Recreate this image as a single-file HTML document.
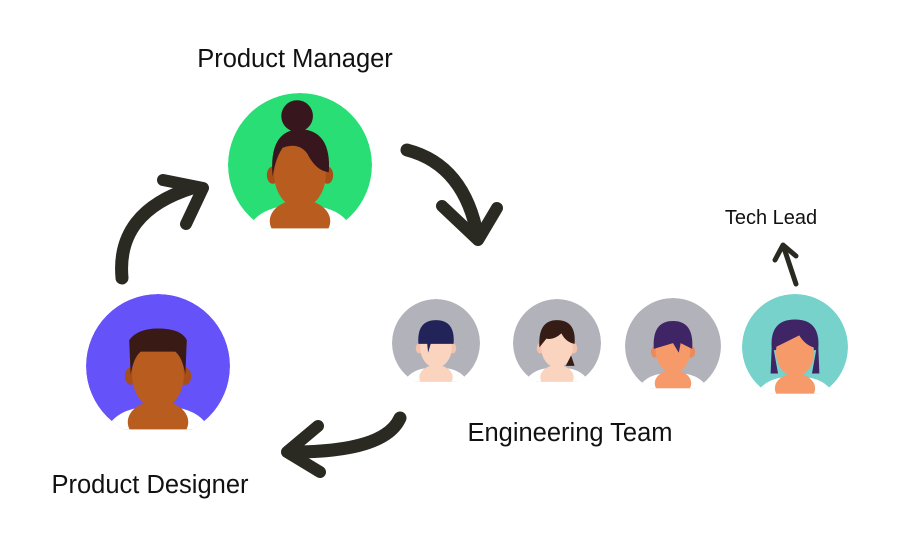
<!DOCTYPE html>
<html><head><meta charset="utf-8"><style>
html,body{margin:0;padding:0;background:#fff;width:903px;height:543px;overflow:hidden}
svg{display:block}
text{font-family:"Liberation Sans",sans-serif;fill:#111}
</style></head><body>
<svg width="903" height="543" viewBox="0 0 903 543">
<defs>
<clipPath id="c"><circle cx="0" cy="0" r="50"/></clipPath>
<clipPath id="r"><rect x="-60" y="-60" width="120" height="104"/></clipPath>
<g id="shirt"><path d="M-44 60 L-36 44 Q-30 32 -14 29 L14 29 Q30 32 36 44 L44 60 Z" fill="#fff"/></g>
</defs>

<text x="295" y="67" font-size="25.5" text-anchor="middle">Product Manager</text>
<text x="150" y="493" font-size="25.5" text-anchor="middle">Product Designer</text>
<text x="570" y="441" font-size="25.5" text-anchor="middle">Engineering Team</text>
<text x="771" y="224" font-size="20" text-anchor="middle">Tech Lead</text>

<!-- PM -->
<g transform="translate(300,165) scale(1.44)"><g clip-path="url(#r)">
 <g clip-path="url(#c)"><circle r="50" fill="#29de74"/><use href="#shirt"/></g>
 <ellipse cx="0" cy="39" rx="21" ry="15" fill="#b85c20"/>
 <rect x="-7" y="20" width="14" height="14" fill="#b85c20"/>
 <ellipse cx="-19" cy="7" rx="4" ry="6" fill="#a84e18"/>
 <ellipse cx="19" cy="7" rx="4" ry="6" fill="#a84e18"/>
 <ellipse cx="0" cy="6" rx="18" ry="24" fill="#b85c20"/>
 <circle cx="-2" cy="-34" r="11" fill="#37161e"/>
 <path d="M-19 8 Q-22 -24 0 -25 Q22 -24 20 5 Q11 4 5 -8 Q-1 -16 -12 -12 Q-17 -5 -19 8 Z" fill="#37161e"/>
</g></g>

<!-- PD -->
<g transform="translate(158,366) scale(1.44)"><g clip-path="url(#r)">
 <g clip-path="url(#c)"><circle r="50" fill="#6552f9"/><use href="#shirt"/></g>
 <ellipse cx="0" cy="39" rx="21" ry="15" fill="#b85c20"/>
 <rect x="-7" y="20" width="14" height="14" fill="#b85c20"/>
 <ellipse cx="-19" cy="7" rx="4" ry="6" fill="#a84e18"/>
 <ellipse cx="19" cy="7" rx="4" ry="6" fill="#a84e18"/>
 <ellipse cx="0" cy="6" rx="18" ry="24" fill="#b85c20"/>
 <path d="M-19 6 L-20 -18 Q-14 -26 0 -26 Q16 -26 20 -18 L19 6 Q17 -6 12 -10 L-12 -10 Q-17 -6 -19 6 Z" fill="#3a1a14"/>
</g></g>

<!-- Eng avatars -->
<g transform="translate(436,343) scale(0.88)"><g clip-path="url(#r)">
 <g clip-path="url(#c)"><circle r="50" fill="#b2b2bb"/><use href="#shirt"/></g>
 <ellipse cx="0" cy="39" rx="19" ry="14" fill="#fbd4c0"/>
 <ellipse cx="-19" cy="6" rx="4" ry="6" fill="#f5c2ad"/><ellipse cx="19" cy="6" rx="4" ry="6" fill="#f5c2ad"/>
 <ellipse cx="0" cy="5" rx="18" ry="23" fill="#fbd4c0"/>
 <path d="M-20 1 Q-22 -26 0 -26 Q22 -26 20 1 L-6 1 L-9 11 L-10 1 Z" fill="#222459"/>
</g></g>
<g transform="translate(557,343) scale(0.88)"><g clip-path="url(#r)">
 <g clip-path="url(#c)"><circle r="50" fill="#b2b2bb"/><use href="#shirt"/></g>
 <ellipse cx="0" cy="39" rx="19" ry="14" fill="#fbd4c0"/>
 <ellipse cx="-19" cy="6" rx="4" ry="6" fill="#f5c2ad"/><ellipse cx="19" cy="6" rx="4" ry="6" fill="#f5c2ad"/>
 <ellipse cx="0" cy="5" rx="18" ry="23" fill="#fbd4c0"/>
 <path d="M-20 5 Q-22 -26 0 -26 Q22 -26 20 1 Q10 -1 5 -11 Q-4 -3 -12 -5 Z M16 14 L20 26 L10 26 Z" fill="#351d16"/>
</g></g>
<g transform="translate(673,346) scale(0.96)"><g clip-path="url(#r)">
 <g clip-path="url(#c)"><circle r="50" fill="#b2b2bb"/><use href="#shirt"/></g>
 <ellipse cx="0" cy="39" rx="19" ry="14" fill="#f59a68"/>
 <ellipse cx="-19" cy="6" rx="4" ry="6" fill="#ec8a5a"/><ellipse cx="19" cy="6" rx="4" ry="6" fill="#ec8a5a"/>
 <ellipse cx="0" cy="5" rx="18" ry="23" fill="#f59a68"/>
 <path d="M-20 3 Q-22 -26 0 -26 Q22 -26 20 3 L8 -3 L6 7 L0 -3 Z" fill="#3f2466"/>
</g></g>
<g transform="translate(795,347) scale(1.06)"><g clip-path="url(#r)">
 <g clip-path="url(#c)"><circle r="50" fill="#77d2cc"/><use href="#shirt"/></g>
 <path d="M-22 1 Q-24 -26 0 -26 Q24 -26 22 1 L23 25 L16 25 L20 3 L-20 3 L-16 25 L-23 25 Z" fill="#3f2466"/>
 <ellipse cx="0" cy="39" rx="19" ry="14" fill="#f59a68"/>
 <ellipse cx="0" cy="5" rx="18" ry="23" fill="#f59a68"/>
 <path d="M-20 1 Q-20 -24 0 -24 Q20 -24 20 1 Q10 -1 4 -11 Q-8 -5 -20 1 Z" fill="#3f2466"/>
</g></g>

<!-- arrows -->
<g fill="none" stroke="#2a2a22" stroke-linecap="round" stroke-linejoin="round">
 <path d="M122 278 Q116 212 192 188" stroke-width="13"/>
 <path d="M163 180 L203 188 L186 224" stroke-width="12"/>
 <path d="M407 150 Q465 165 478 238" stroke-width="13"/>
 <path d="M442 206 L478 240 L497 208" stroke-width="12"/>
 <path d="M400 418 Q385 452 292 452" stroke-width="13"/>
 <path d="M318 426 L287 452 L320 472" stroke-width="12"/>
 <path d="M796 284 L784 248" stroke-width="5"/>
 <path d="M775 260 L783 245 L796 256" stroke-width="5"/>
</g>
</svg>
</body></html>
